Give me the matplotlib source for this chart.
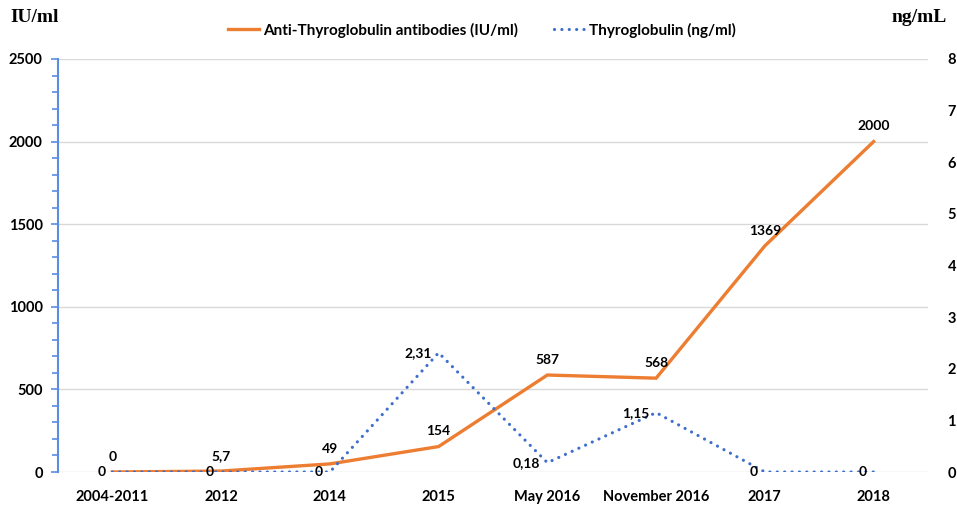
import matplotlib.pyplot as plt
import numpy as np

categories = ['2004-2011', '2012', '2014', '2015', 'May 2016', 'November 2016', '2017', '2018']
anti_tg = [0, 5.7, 49, 154, 587, 568, 1369, 2000]
anti_tg_labels = ['0', '5,7', '49', '154', '587', '568', '1369', '2000']
tg = [0, 0, 0, 2.31, 0.18, 1.15, 0, 0]
tg_labels = ['0', '0', '0', '2,31', '0,18', '1,15', '0', '0']

orange = '#ED7D31'
blue = '#3E6FCB'

plt.rcParams['font.family'] = ['Lato', 'DejaVu Sans']
plt.rcParams['font.weight'] = 'bold'

fig = plt.figure(figsize=(9.57, 5.08), dpi=100)
ax = fig.add_axes([58/957, 1 - 472/508, (928 - 58)/957, (472 - 59)/508])
ax2 = ax.twinx()

x = np.arange(len(categories))

l1, = ax.plot(x, anti_tg, color=orange, lw=2.4, solid_joinstyle='miter', zorder=3,
              label='Anti-Thyroglobulin antibodies (IU/ml)')
l2, = ax2.plot(x, tg, color=blue, lw=2.3, linestyle=(0, (0.01, 2.3)), dash_capstyle='round',
               zorder=3, label='Thyroglobulin (ng/ml)')

ax.set_xlim(-0.5, len(categories) - 0.5)
ax.set_ylim(0, 2500)
ax2.set_ylim(0, 8)
ax.set_yticks(np.arange(0, 2501, 500))
ax.set_yticks(np.arange(0, 2501, 100), minor=True)
ax2.set_yticks(np.arange(0, 9, 1))

ax.grid(axis='y', color='#d9d9d9', lw=1)
ax.set_axisbelow(True)

for s in ['top', 'right', 'bottom']:
    ax.spines[s].set_visible(False)
for s in ['top', 'right', 'bottom', 'left']:
    ax2.spines[s].set_visible(False)
ax.spines['left'].set_color('#5B8DE0')
ax.spines['left'].set_linewidth(1.5)

ax.tick_params(axis='y', which='both', color='#5B8DE0', width=1.2, labelsize=10.5)
ax.tick_params(axis='y', which='major', length=5, pad=6)
ax.tick_params(axis='y', which='minor', length=4)
ax.tick_params(axis='x', length=0, labelsize=10.5, pad=13)
ax2.tick_params(axis='y', length=0, labelsize=10.5, pad=14)

ax.set_xticks(x)
ax.set_xticklabels(categories)

for xi, yi, lab in zip(x, anti_tg, anti_tg_labels):
    ax.annotate(lab, (xi, yi), xytext=(0, 11), textcoords='offset points',
                ha='center', va='center', fontsize=10, fontweight='bold')
for xi, yi, lab in zip(x, tg, tg_labels):
    ax2.annotate(lab, (xi, yi), xytext=(-5, 0), textcoords='offset points',
                 ha='right', va='center', fontsize=10, fontweight='bold')

fig.text(10/957, 1 - 17/508, 'IU/ml', family='Liberation Serif', fontweight='bold',
         fontsize=14, ha='left', va='center')
fig.text(947/957, 1 - 17/508, 'ng/mL', family='Liberation Serif', fontweight='bold',
         fontsize=14, ha='right', va='center')

fig.legend(handles=[l1, l2], loc='center', bbox_to_anchor=(482/957, 1 - 30/508), ncol=2,
           frameon=False, fontsize=11, handlelength=2.0, handletextpad=0.3, columnspacing=2.3)

fig.savefig('out.png', dpi=100)
